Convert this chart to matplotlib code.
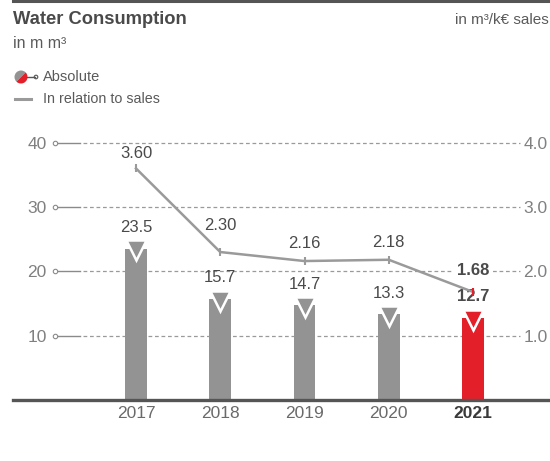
import matplotlib
matplotlib.use("Agg")
import matplotlib.pyplot as plt
from matplotlib.patches import Wedge, Circle
import numpy as np

# === data ===
years = ["2017", "2018", "2019", "2020", "2021"]
absolute = [23.5, 15.7, 14.7, 13.3, 12.7]          # m m³
per_sales = [3.60, 2.30, 2.16, 2.18, 1.68]          # m³/k€ sales
left_ticks = [10, 20, 30, 40]
right_ticks = [1.0, 2.0, 3.0, 4.0]

GRAY = "#939393"
RED = "#e3202a"
TXT = "#4a4a4a"
TICK = "#808080"

plt.rcParams["font.family"] = ["Liberation Sans", "DejaVu Sans"]

fig = plt.figure(figsize=(5.5, 4.61), dpi=100)
W, H = 550, 461

# axes placed in pixel units
x0, x1, y0, y1 = 55, 522, 400, 120
ax = fig.add_axes([x0 / W, 1 - y0 / H, (x1 - x0) / W, (y0 - y1) / H])
ax2 = ax.twinx()

px_per_cat = 84.25
first_x = 136
xmin = -(first_x - x0) / px_per_cat
xmax = 4 + (x1 - (first_x + 4 * px_per_cat)) / px_per_cat
ymax = (y0 - y1) / 6.433
ax.set_xlim(xmin, xmax)
ax.set_ylim(0, ymax)
ax2.set_ylim(0, ymax / 10)

for a in (ax, ax2):
    for s in a.spines.values():
        s.set_visible(False)
    a.set_facecolor("none")

ax.set_zorder(2)
ax2.set_zorder(3)

x = np.arange(len(years))
colors = [GRAY] * (len(years) - 1) + [RED]

# gridlines: dashed part + solid stub with small circle on the left
for t in left_ticks:
    ax.plot([0.06, 0.995], [t, t], transform=ax.get_yaxis_transform(),
            ls=(0, (3, 2.2)), lw=0.9, color="#9a9a9a", zorder=0)
    ax.plot([0.0, 0.053], [t, t], transform=ax.get_yaxis_transform(),
            lw=1.0, color="#8a8a8a", zorder=0, clip_on=False)
    ax.plot([0.0], [t], transform=ax.get_yaxis_transform(), marker="o",
            ms=3.2, mfc="white", mec="#8a8a8a", mew=0.8, zorder=1, clip_on=False)

# bars
ax.bar(x, absolute, width=0.26, color=colors, zorder=3)
for xi, v, c in zip(x, absolute, colors):
    ax.plot(xi, v - 0.25, marker="v", ms=15, mfc=c, mec="white", mew=1.8, zorder=4)
for i, (xi, v) in enumerate(zip(x, absolute)):
    bold = i == len(years) - 1
    ax.annotate(f"{v:.1f}", (xi, v), xytext=(0, 10), textcoords="offset points",
                ha="center", va="bottom", fontsize=12, color=TXT,
                fontweight="bold" if bold else "normal", zorder=5)

ax.set_yticks(left_ticks)
ax.set_yticklabels([str(t) for t in left_ticks])
ax.tick_params(axis="y", length=0, pad=6, labelsize=12.5, labelcolor=TICK)
ax.set_xticks(x)
ax.set_xticklabels(years)
ax.tick_params(axis="x", length=0, pad=4, labelsize=12.5, labelcolor="#6a6a6a")
ax.get_xticklabels()[-1].set_fontweight("bold")
ax.get_xticklabels()[-1].set_color("#3a3a3a")

# relation-to-sales line
ax2.plot(x, per_sales, color="#9a9a9a", lw=1.8, zorder=5)
ax2.plot(x[:-1], per_sales[:-1], ls="none", marker="|", ms=6, mew=1.5, color="#9a9a9a", zorder=6)
ax2.plot(x[-1:], per_sales[-1:], ls="none", marker="|", ms=6, mew=1.5, color=RED, zorder=6)
label_dy = [5, 14, 7, 7, 10]
for i, (xi, v) in enumerate(zip(x, per_sales)):
    bold = i == len(years) - 1
    ax2.annotate(f"{v:.2f}", (xi, v), xytext=(0, label_dy[i]), textcoords="offset points",
                 ha="center", va="bottom", fontsize=12, color=TXT,
                 fontweight="bold" if bold else "normal", zorder=7,
                 bbox=dict(boxstyle="square,pad=0.15", fc="white", ec="none") if bold else None)

ax2.set_yticks(right_ticks)
ax2.set_yticklabels([f"{t:.1f}" for t in right_ticks])
ax2.tick_params(axis="y", length=0, pad=1, labelsize=12.5, labelcolor=TICK)

# overlay in pixel units for header, legend and baseline
ov = fig.add_axes([0, 0, 1, 1], zorder=10)
ov.set_xlim(0, W)
ov.set_ylim(H, 0)
ov.axis("off")
ov.patch.set_alpha(0)

ov.plot([13, W], [1, 1], color="#555555", lw=2.2)
ov.plot([13, W], [400, 400], color="#555555", lw=2.4)
ov.text(13, 20, "Water Consumption", fontsize=13.2, fontweight="bold", color=TXT, va="center")
ov.text(13, 43, "in m m³", fontsize=11.5, color="#5a5a5a", va="center")
ov.text(549, 20, "in m³/k€ sales", fontsize=11, color="#5a5a5a", va="center", ha="right")

# legend
ov.add_patch(Wedge((21, 77), 6.5, 135, 315, fc=GRAY, ec="none"))
ov.add_patch(Wedge((21, 77), 6.5, 315, 135, fc=RED, ec="none"))
ov.plot([27, 35], [77, 77], color="#555555", lw=1.0)
ov.add_patch(Circle((36, 77), 1.8, fc="white", ec="#555555", lw=0.8))
ov.text(43, 77, "Absolute", fontsize=10.5, color="#5a5a5a", va="center")
ov.plot([15, 31], [99, 99], color="#9a9a9a", lw=2.2)
ov.text(43, 99, "In relation to sales", fontsize=10.3, color="#5a5a5a", va="center")

fig.savefig("out.png", dpi=100)
